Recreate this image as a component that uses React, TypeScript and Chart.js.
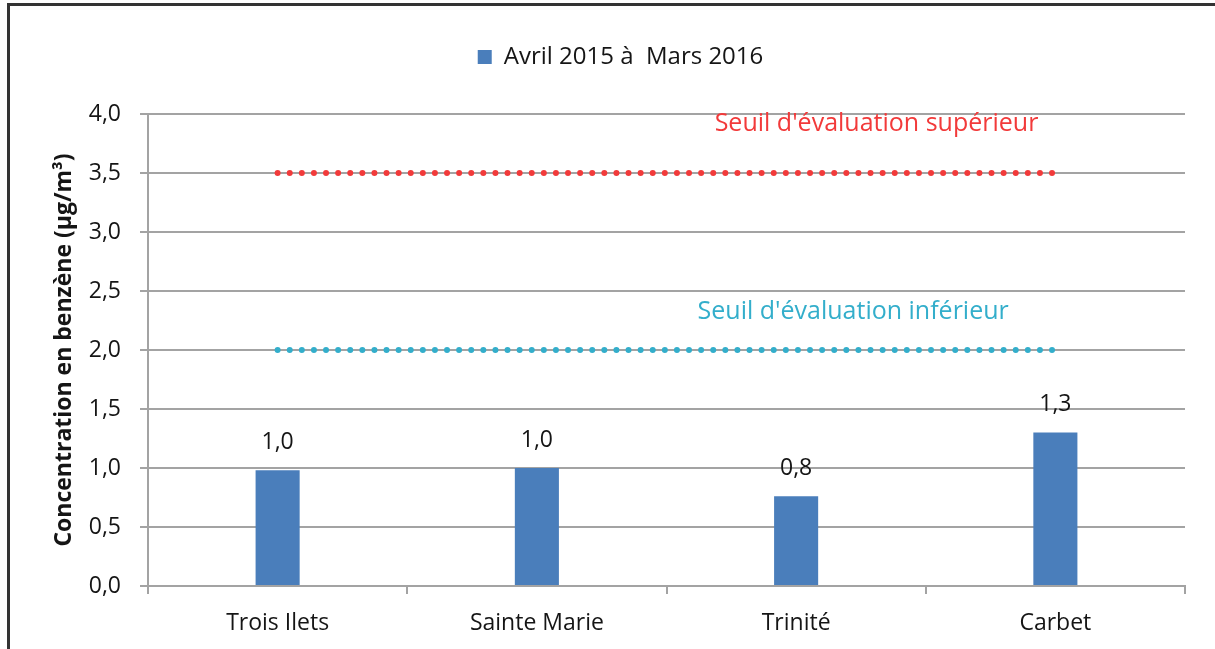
import React, { useEffect, useRef } from "react";
import { Chart, registerables } from "chart.js";

Chart.register(...registerables);

const categories = ["Trois Ilets", "Sainte Marie", "Trinité", "Carbet"];
const seriesLabel = "Avril 2015 à  Mars 2016";
const concentrations = [0.98, 1.0, 0.76, 1.3];
const upperThreshold = [3.5, 3.5, 3.5, 3.5];
const lowerThreshold = [2.0, 2.0, 2.0, 2.0];
const upperLabel = "Seuil d'évaluation supérieur";
const lowerLabel = "Seuil d'évaluation inférieur";
const yTitle = "Concentration en benzène (µg/m³)";

const FONT = "'Open Sans', Lato, sans-serif";
const BAR = "#4A7EBB";
const RED = "#F23A3A";
const CYAN = "#33AECB";
const GRID = "#A3A3A3";
const TXT = "#151515";

const fmt = (v: number) => v.toFixed(1).replace(".", ",");

export default function App() {
  const ref = useRef<HTMLCanvasElement | null>(null);
  useEffect(() => {
    if (!ref.current) return;
    const legendSpacer = {
      id: "legendSpacer",
      beforeInit(chart: any) {
        const orig = chart.legend.fit;
        chart.legend.fit = function () {
          orig.bind(chart.legend)();
          this.height = 79;
        };
      },
      afterLayout(chart: any) {
        chart.legend.left += 24;
        chart.legend.right += 24;
      },
    };
    const annot = {
      id: "annot",
      afterDatasetsDraw(chart: any) {
        const ctx = chart.ctx;
        const x = chart.scales.x;
        const y = chart.scales.y;
        ctx.save();
        ctx.textAlign = "center";
        ctx.textBaseline = "middle";
        ctx.font = `23px ${FONT}`;
        ctx.fillStyle = TXT;
        const meta = chart.getDatasetMeta(0);
        meta.data.forEach((el: any, i: number) => {
          ctx.fillText(fmt(concentrations[i]), el.x, el.y - 28);
        });
        ctx.font = `25px ${FONT}`;
        ctx.fillStyle = RED;
        ctx.fillText(upperLabel, x.getPixelForValue(2.31), y.getPixelForValue(3.92));
        ctx.fillStyle = CYAN;
        ctx.fillText(lowerLabel, x.getPixelForValue(2.22), y.getPixelForValue(2.32));
        ctx.restore();
      },
    };
    const chart = new Chart(ref.current, {
      type: "bar",
      data: {
        labels: categories,
        datasets: [
          {
            type: "bar",
            label: seriesLabel,
            data: concentrations,
            backgroundColor: BAR,
            barPercentage: 0.17,
            categoryPercentage: 1,
            order: 2,
          },
          {
            type: "line",
            label: upperLabel,
            data: upperThreshold,
            borderColor: RED,
            borderWidth: 6,
            borderDash: [0, 12.1],
            borderCapStyle: "round",
            pointRadius: 0,
            order: 1,
          },
          {
            type: "line",
            label: lowerLabel,
            data: lowerThreshold,
            borderColor: CYAN,
            borderWidth: 6,
            borderDash: [0, 12.1],
            borderCapStyle: "round",
            pointRadius: 0,
            order: 1,
          },
        ] as any,
      },
      options: {
        animation: false,
        responsive: false,
        layout: { padding: { left: 8, right: 30, top: 35, bottom: 0 } },
        plugins: {
          legend: {
            display: true,
            position: "top",
            labels: {
              filter: (item: any) => item.datasetIndex === 0,
              boxWidth: 14,
              boxHeight: 14,
              padding: 10,
              color: TXT,
              font: { family: FONT, size: 24 },
            },
          },
          tooltip: { enabled: false },
        },
        scales: {
          x: {
            offset: true,
            afterFit: (s: any) => {
              s.height = 63;
            },
            grid: {
              offset: true,
              drawOnChartArea: false,
              drawTicks: true,
              tickLength: 8,
              color: GRID,
              lineWidth: 2,
            },
            border: { color: GRID, width: 2 },
            ticks: {
              color: TXT,
              padding: 16,
              font: { family: FONT, size: 23 },
            },
          },
          y: {
            min: 0,
            max: 4,
            afterFit: (s: any) => {
              s.width = 140;
            },
            ticks: {
              stepSize: 0.5,
              color: TXT,
              padding: 19,
              font: { family: FONT, size: 23 },
              callback: (v: any) => fmt(Number(v)),
            },
            grid: { color: GRID, lineWidth: 2, tickLength: 8 },
            border: { color: GRID, width: 2 },
            title: {
              display: true,
              text: yTitle,
              color: TXT,
              font: { family: FONT, size: 23, weight: "bold" },
              padding: { top: 43, bottom: 0 },
            },
          },
        },
      } as any,
      plugins: [legendSpacer, annot],
    });
    return () => chart.destroy();
  }, []);
  return (
    <div style={{ position: "fixed", left: 0, top: 0, width: 1215, height: 649, background: "#fff", overflow: "hidden" }}>
      <canvas ref={ref} width={1215} height={649} style={{ position: "absolute", left: 0, top: 0, width: 1215, height: 649 }} />
      <div
        style={{
          position: "absolute",
          left: 7,
          top: 3,
          width: 1300,
          height: 800,
          borderLeft: "3px solid #333",
          borderTop: "3px solid #333",
          pointerEvents: "none",
        }}
      />
    </div>
  );
}
